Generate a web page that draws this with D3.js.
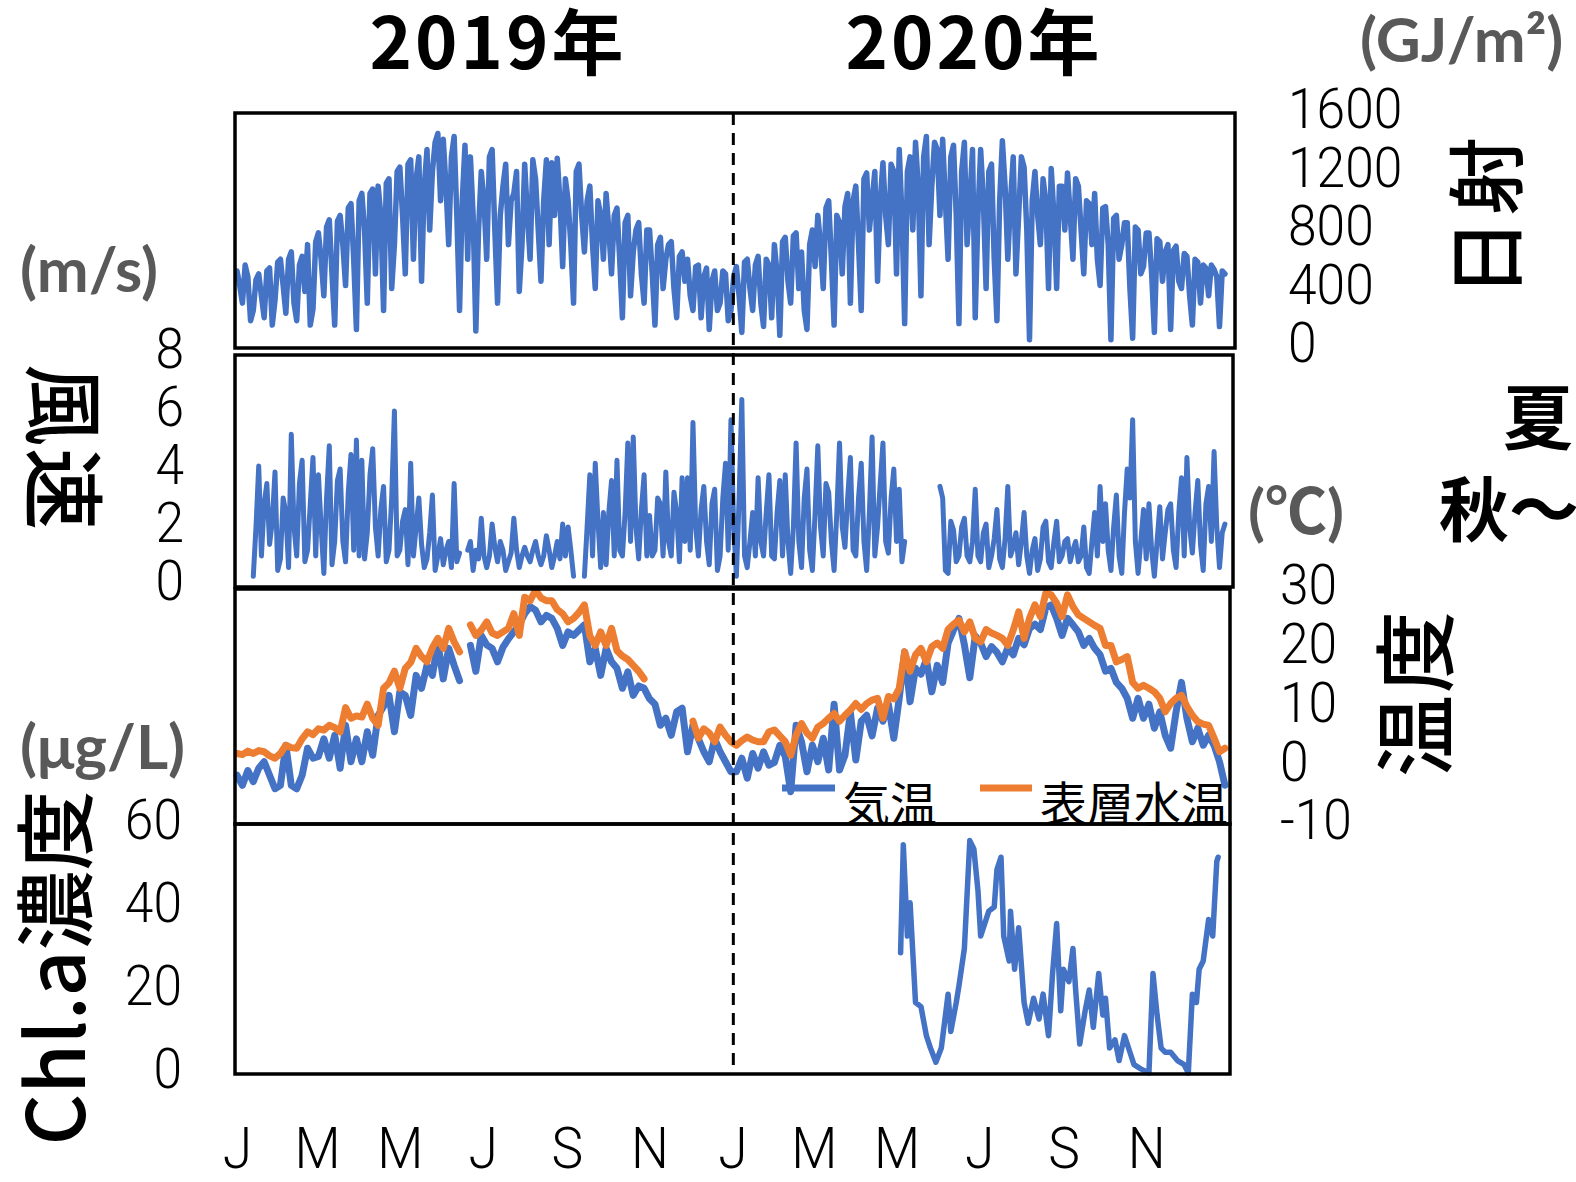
<!DOCTYPE html>
<html>
<head>
<meta charset="utf-8">
<script src="https://d3js.org/d3.v7.min.js"></script>
<style>
  body { margin:0; background:#fff; }
  svg text { font-family: "Noto Sans CJK JP", sans-serif; }
</style>
</head>
<body>
<script>
  var start = new Date(2019, 0, 1);
  var spikyStep = 2;   // solar and wind: one value every 2 days from 2019-01-01
  var tempStep = 4;    // temperatures: one value every 4 days from 2019-01-01

  // 日射 (GJ/m2)
  var solar = [
    // 2019
    520,420, 300,560, 480,180, 250,460, 500,350, 200,520, 540,150, 320,580,
    600,420, 230,600, 650,300, 180,560, 620,380, 700,150, 260,720,
    780,600, 350,820, 870,500, 150,860, 900,700, 420,950, 980,600, 120,1000,
    1050,800, 300,1050, 1080,500, 1100,900, 250,1120, 1150,400, 700,1200,
    1230,900, 500,1250, 1280,600, 1150,1300, 450,1100, 1350,800, 1200,1400, 1460,1000,
    1420,1100, 700,1300, 1440,900, 250,1000, 1380,600, 1300,900, 110,800,
    1200,1000, 600,1300, 1350,800, 300,900, 1100,1250, 700,1000, 1050,1200, 380,700,
    1250,900, 600,1280, 1150,800, 450,1000, 1280,700, 1260,900, 1290,1000, 550,1150,
    1000,700, 300,1200, 1250,900, 650,1000, 1100,700, 400,1000, 900,600,
    1050,800, 500,900, 950,600, 200,850, 900,350, 650,800, 850,500, 300,800,
    800,500, 150,700, 750,400, 600,700, 720,400, 200,620, 650,450,
    600,350, 250,550, 560,200, 480,540, 120,450, 520,250, 300,520, 500,180, 250,480,
    // 2020
    550,350, 100,580, 600,400, 250,560, 620,300, 140,600, 560,200,
    700,500, 80,720, 750,450, 300,760, 780,400, 650,250, 120,700, 800,550,
    900,700, 400,950, 1000,600, 150,900, 850,500, 960,1050, 300,1000,
    1100,700, 250,1150, 1190,800, 1000,1200, 450,1000, 1260,900, 700,1250, 1200,500,
    1350,900, 160,1200, 1300,800, 1400,1100, 350,1300, 1440,700, 1100,1400, 1350,900,
    1420,1000, 600,1300, 1380,900, 160,1200, 1400,700, 1000,1350, 200,900,
    1350,1000, 400,1200, 1250,600, 180,1000, 1410,1100, 600,1000, 1300,500, 900,1300,
    1230,800, 50,1000, 1200,900, 700,1150, 1000,400, 1220,900, 400,1100, 1100,800,
    1190,900, 600,1150, 1100,800, 500,1000, 980,700, 1050,600, 420,950,
    960,700, 50,880, 900,600, 700,850, 850,400, 60,820, 800,500, 550,780,
    780,500, 100,740, 720,450, 650,700, 120,660, 690,450, 400,640,
    620,350, 150,600, 580,300, 560,540, 350,560, 530,480, 140,520, 500
  ];

  // 風速 (m/s)
  var wind = [
    // 2019
    null,null, null,null, null,null, 0.3,2.0, 4.1,1.0, 2.8,3.5, 1.4,2.2, 3.9,0.5,
    0.9,3.0, 2.5,0.6, 5.2,2.0, 1.0,3.5, 4.3,0.8, 1.2,2.8, 4.4,1.0,
    3.8,2.0, 0.4,3.0, 4.8,0.7, 1.5,3.6, 4.0,1.5, 0.8,3.2, 4.5,1.2, 5.0,1.0,
    4.3,0.9, 1.8,3.8, 4.7,2.0, 1.0,2.6, 3.4,0.8, 1.2,3.0, 6.0,1.0,
    1.2,2.2, 2.6,0.7, 4.2,1.0, 2.0,3.0, 1.4,0.6, 0.9,1.8, 3.1,0.5, 1.0,1.6,
    0.7,1.2, 1.5,0.6, 3.5,0.8, 1.1,null, null,1.2, 1.5,0.5, 1.2,0.9,
    2.3,1.0, 0.6,1.0, 2.1,1.3, 0.8,1.5, 1.2,0.5, 0.8,1.1, 2.3,1.2, 0.6,1.0,
    1.3,1.0, 0.8,1.2, 1.5,1.0, 0.7,1.0, 1.7,1.2, 0.6,1.0, 1.5,0.9, 2.1,1.0,
    2.0,1.2, 0.3,null, null,null, 0.3,2.0, 3.8,1.0, 4.2,2.2, 0.6,2.5,
    0.7,2.5, 3.6,1.0, 4.3,1.2, 1.0,2.5, 4.9,1.5, 5.1,2.0, 0.9,2.6, 3.8,1.0,
    2.4,1.0, 1.2,3.0, 2.8,1.0, 3.9,1.5, 1.0,3.2, 2.5,0.8, 3.7,1.5,
    3.7,1.2, 5.6,2.0, 1.0,2.6, 3.4,1.5, 0.7,2.8, 3.3,0.5, 1.0,3.0, 4.2,1.2, 5.7,2.0,
    // 2020
    0.3,3.0, 6.4,1.0, 0.6,1.5, 2.5,1.0, 3.7,1.5, 1.0,2.5, 3.8,1.0,
    0.9,2.5, 3.6,1.0, 3.8,1.5, 0.4,2.0, 4.9,1.5, 0.6,3.0, 4.0,1.2, 0.5,2.5,
    4.8,2.0, 1.0,3.5, 3.2,1.5, 0.5,2.5, 4.9,2.0, 1.3,3.0, 4.4,1.2,
    1.0,3.0, 4.2,1.5, 0.5,2.5, 5.1,1.0, 2.0,3.5, 4.9,1.5, 1.1,3.0, 4.0,1.5,
    3.3,0.8, 1.5,null, null,null, null,null, null,null, null,null, null,null, null,3.4,
    3.0,0.5, 0.4,2.2, 1.9,0.8, 1.0,2.0, 2.3,1.0, 0.8,1.5, 3.3,1.0,
    0.8,1.8, 2.1,0.6, 1.0,1.6, 2.6,0.9, 0.6,1.6, 3.4,1.0, 1.3,1.8, 0.7,1.5,
    2.5,1.0, 0.4,1.2, 1.6,0.5, 0.9,2.0, 2.2,0.8, 0.6,1.5, 2.2,0.8, 1.0,1.5,
    1.6,0.8, 1.2,1.5, 0.8,1.0, 2.0,0.6, 0.4,1.5, 2.5,1.0, 3.4,1.5,
    2.8,1.2, 0.5,2.0, 3.1,1.0, 0.4,2.5, 4.0,3.0, 5.7,1.5, 0.4,1.5, 2.6,0.9,
    2.8,1.2, 0.3,1.5, 2.7,0.9, 1.8,2.6, 2.8,1.2, 0.6,2.5, 3.7,1.0,
    4.4,2.0, 1.1,2.5, 3.6,1.4, 0.5,2.8, 3.4,1.5, 4.6,2.0, 0.6,1.8, 2.1
  ];

  // 気温 (℃)
  var airTemp = [
    // 2019
    -1.7, -3.4, -0.9, -2.8, -0.5, 0.6, -1.7, -4.0,
    -3.4, 3.4, -3.4, -4.0, -1.7, 2.9, 1.2,
    1.5, 4.5, 1.2, 5.1, -0.5, 6.8, 0.6, 4.5,
    0.6, 5.7, 1.7, 8.5, 10.0, 11.9, 5.7,
    12.5, 11.9, 8.5, 15.3, 13.1, 17.0, 15.3, 20.8,
    14.7, 19.9, 17.0, 14.4, null, 20.4, 16.0,
    22.1, 20.5, 19.9, 17.6, 20.1, 21.5, 22.7, 23.9,
    25.8, 27.0, 26.4, 24.4, 25.5, 25.0, 23.3, 20.4,
    22.7, 22.1, 23.0, 23.9, 17.6, 19.9, 15.3,
    19.9, 17.6, 16.5, 13.1, 15.9, 11.9, 13.5, 13.1,
    11.3, 10.4, 6.8, 8.0, 5.1, 9.1, 9.7,
    2.3, 6.8, 4.5, 2.3, 0.6, 4.5, 2.3, 0.6, -1.1,
    // 2020
    -1.1, 1.2, -2.2, 2.0, -0.5, 2.3, 0.0,
    0.5, 3.4, 1.5, -4.5, 6.8, 4.0, -1.1, 3.4,
    0.6, 4.6, -0.8, 10.4, -0.8, 1.7, 9.0,
    0.9, 7.5, 8.5, 5.0, 9.7, 7.5, 10.4, 4.6,
    11.4, 19.3, 10.8, 16.5, 15.5, 18.0, 12.5, 17.0,
    14.1, 20.8, 23.0, 25.0, 20.5, 14.9, 22.0,
    20.8, 18.5, 20.2, 19.2, 17.6, 20.0, 18.8, 21.6,
    20.5, 23.3, 24.0, 23.1, 26.8, 27.3, 25.0, 22.1,
    25.0, 23.9, 22.7, 20.4, 21.6, 19.9, 18.8,
    16.0, 16.5, 14.1, 13.1, 11.4, 8.0, 11.4, 8.0,
    10.4, 6.3, 9.1, 5.1, 2.9, 9.1, 14.1,
    8.0, 4.0, 6.3, 3.4, 5.1, 3.4, 0.6, -3.4
  ];

  // 表層水温 (℃)
  var waterTemp = [
    // 2019
    2.0, 1.8, 2.4, 2.0, 2.5, 2.3, 1.6, 1.2,
    2.0, 3.4, 3.0, 2.9, 4.5, 5.7, 5.2,
    6.2, 6.0, 6.8, 6.4, 5.7, 9.8, 8.0, 8.4,
    8.2, 10.4, 8.0, 6.8, 13.1, 14.0, 16.0,
    13.1, 16.5, 17.5, 19.9, 18.5, 17.6, 20.0, 21.6,
    19.9, 23.3, 21.0, 19.3, null, 23.9, 22.1,
    23.0, 24.4, 22.5, 22.1, 22.7, 23.3, 25.8, 22.1,
    28.6, 28.0, 29.8, 28.5, 28.0, 28.0, 26.5, 25.8,
    24.4, 25.0, 26.0, 27.3, 22.0, 20.4, 22.7,
    20.4, 23.3, 19.5, 18.6, 18.0, 17.0, 16.0, 14.7,
    null, null, null, null, null, null, null,
    null, 7.5, 4.6, 6.2, 5.5, 4.0, 6.5, 5.1, 4.0,
    // 2020
    3.4, 4.2, 4.8, 4.3, 4.0, 4.0, 5.7,
    6.0, 5.0, 4.0, 1.7, 5.1, 7.1, 5.5, 4.6,
    6.5, 7.1, 8.0, 8.8, 7.5, 8.5, 9.4,
    10.5, 9.5, 10.5, 11.1, 11.4, 8.0, 11.7, 11.3,
    13.1, 19.3, 16.0, 18.8, 19.9, 17.6, 20.2, 20.8,
    19.9, 23.1, 24.0, 24.7, 22.7, 24.4, 21.6,
    21.0, 23.1, 22.5, 22.1, 21.6, 20.4, 23.0, 26.1,
    21.6, 25.0, 27.3, 25.3, 29.3, 29.0, 27.6, 25.3,
    29.0, 27.0, 25.6, 25.0, 24.4, 23.8, 23.3,
    20.4, 20.4, 17.6, 18.0, 18.5, 14.1, 13.1, 13.6,
    13.1, 12.5, 11.4, 9.1, 10.5, 11.4, 11.9,
    10.0, 8.5, 7.4, 7.0, 6.8, 4.6, 2.3, 2.9
  ];

  // Chl.a濃度 (μg/L), days counted from 2019-01-01
  var chlDay = [489, 491, 494, 496, 498, 500, 504, 508, 511, 515,
    519, 524, 526, 530, 532, 536, 540, 543, 546, 548,
    551, 554, 558, 560, 563, 565, 569, 570, 573, 576,
    580, 583, 587, 591, 594, 598, 601, 604, 607, 609,
    613, 616, 618, 621, 625, 628, 631, 635, 638, 640,
    643, 647, 650, 654, 658, 661, 666, 672, 675, 678,
    681, 684, 688, 693, 698, 701, 704, 707, 709, 712,
    716, 719, 722, 723];
  var chlVal = [29, 55, 33, 41, 29, 17, 16, 9, 6, 2.6,
    6, 19, 10, 17, 21, 30, 56, 54, 44, 33,
    36, 39, 40, 49, 52, 33, 27, 39, 25, 35,
    17, 12, 18, 13, 19, 9, 24, 36, 15, 25,
    22, 30, 20, 7, 15, 20, 11, 24, 14, 18,
    6, 8, 3, 9, 5, 2, 1, 0, 24, 14,
    6, 5, 5, 3, 2, 0, 19, 17, 25, 27,
    37, 33, 51, 52];

  var xTickDates = [new Date(2019,0,1), new Date(2019,2,1), new Date(2019,4,1), new Date(2019,6,1),
    new Date(2019,8,1), new Date(2019,10,1), new Date(2020,0,1), new Date(2020,2,1),
    new Date(2020,4,1), new Date(2020,6,1), new Date(2020,8,1), new Date(2020,10,1)];
  var xTickLabels = ["J", "M", "M", "J", "S", "N", "J", "M", "M", "J", "S", "N"];
  var solarTicks = [0, 400, 800, 1200, 1600];
  var windTicks = [0, 2, 4, 6, 8];
  var tempTicks = [-10, 0, 10, 20, 30];
  var chlTicks = [0, 20, 40, 60];

  var blue = "#4472C4", orange = "#ED7D31", grey = "#595959";
  var tickFont = "Roboto, 'Noto Sans CJK JP', sans-serif";

  var svg = d3.select("body").append("svg")
    .attr("width", 1576)
    .attr("height", 1182);

  var x = d3.scaleTime()
    .domain([new Date(2019,0,1), new Date(2021,0,1)])
    .range([237, 1229]);

  var ySolar = d3.scaleLinear().domain([0, 1600]).range([347, 113]);
  var yWind = d3.scaleLinear().domain([0, 8]).range([585, 353]);
  var yTemp = d3.scaleLinear().domain([-10, 30]).range([824, 589]);
  var yChl = d3.scaleLinear().domain([0, 60]).range([1073, 824]);

  function dateOf(d) { return d3.timeDay.offset(start, d); }

  function drawSeries(days, values, y, color, width) {
    var pts = values.map(function(v, i) { return { date: dateOf(days(i)), v: v }; });
    var line = d3.line()
      .defined(function(d) { return d.v != null; })
      .x(function(d) { return x(d.date); })
      .y(function(d) { return y(d.v); });
    svg.append("path")
      .attr("d", line(pts))
      .attr("fill", "none")
      .attr("stroke", color)
      .attr("stroke-width", width)
      .attr("stroke-linejoin", "round")
      .attr("stroke-linecap", "round");
  }

  drawSeries(function(i) { return i * spikyStep; }, solar, ySolar, blue, 5.5);
  drawSeries(function(i) { return i * spikyStep; }, wind, yWind, blue, 5);
  drawSeries(function(i) { return i * tempStep; }, airTemp, yTemp, blue, 7);
  drawSeries(function(i) { return i * tempStep; }, waterTemp, yTemp, orange, 7);
  drawSeries(function(i) { return chlDay[i]; }, chlVal, yChl, blue, 5.5);

  // panel frames
  var frames = [
    [235, 113, 1000, 235],
    [235, 355, 998, 232],
    [235, 589, 995, 235],
    [235, 824, 995, 250]
  ];
  svg.selectAll(".frame").data(frames).enter().append("rect")
    .attr("class", "frame")
    .attr("x", function(d) { return d[0]; })
    .attr("y", function(d) { return d[1]; })
    .attr("width", function(d) { return d[2]; })
    .attr("height", function(d) { return d[3]; })
    .attr("fill", "none")
    .attr("stroke", "#000")
    .attr("stroke-width", 3.5);

  // year boundary
  svg.append("line")
    .attr("x1", x(new Date(2020,0,1)) + 1).attr("x2", x(new Date(2020,0,1)) + 1)
    .attr("y1", 113).attr("y2", 1073)
    .attr("stroke", "#000").attr("stroke-width", 3)
    .attr("stroke-dasharray", "12,8");

  // axes
  function yAxis(gen, scale, ticks, xPos) {
    var g = svg.append("g")
      .attr("transform", "translate(" + xPos + ",-3)")
      .call(gen(scale).tickValues(ticks).tickFormat(String).tickSize(0).tickPadding(0));
    g.select(".domain").remove();
    g.attr("font-size", 56).attr("font-weight", 300);
    g.selectAll("text").style("font-family", tickFont).attr("transform", "scale(0.92,1)");
  }
  yAxis(d3.axisRight, ySolar, solarTicks, 1288);
  yAxis(d3.axisLeft, yWind, windTicks, 184);
  yAxis(d3.axisRight, yTemp, tempTicks, 1280);
  yAxis(d3.axisLeft, yChl, chlTicks, 182);

  var gx = svg.append("g")
    .attr("transform", "translate(0,1127)")
    .call(d3.axisBottom(x).tickValues(xTickDates)
      .tickFormat(function(d, i) { return xTickLabels[i]; })
      .tickSize(0).tickPadding(0));
  gx.select(".domain").remove();
  gx.attr("font-size", 58).attr("font-weight", 300);
  gx.selectAll("text").style("font-family", tickFont).attr("transform", "scale(0.92,1)");

  // titles
  svg.append("text").attr("x", 498).attr("y", 69).attr("text-anchor", "middle")
    .attr("font-size", 72).attr("font-weight", 700).attr("letter-spacing", 3).text("2019年");
  svg.append("text").attr("x", 974).attr("y", 69).attr("text-anchor", "middle")
    .attr("font-size", 72).attr("font-weight", 700).attr("letter-spacing", 3).text("2020年");

  // units
  function unit(txt, xPos, yPos) {
    svg.append("text").attr("x", xPos).attr("y", yPos)
      .attr("dominant-baseline", "central")
      .style("font-family", "Lato, 'Noto Sans CJK JP'")
      .attr("font-size", 62).attr("font-weight", 700).attr("fill", grey).text(txt);
  }
  unit("(m/s)", 20, 268);
  unit("(GJ/m²)", 1360, 38);
  unit("(℃)", 1248, 510);
  unit("(μg/L)", 20, 745);

  // rotated axis titles
  function vtitle(txt, cx, cy, angle, size, spacing) {
    svg.append("text")
      .attr("transform", "translate(" + cx + "," + cy + ") rotate(" + angle + ")")
      .attr("text-anchor", "middle").attr("dominant-baseline", "central")
      .attr("letter-spacing", spacing)
      .attr("font-size", size).attr("font-weight", 500).text(txt);
  }
  vtitle("日射", 1482, 215, -90, 78, 4);
  vtitle("風速", 68, 448, 90, 82, 2);
  vtitle("温度", 1410, 693, -90, 82, 2);
  vtitle("Chl.a濃度", 50, 968, -90, 80, 0);

  // season fragments
  svg.append("text").attr("x", 1503).attr("y", 413).attr("dominant-baseline", "central")
    .attr("font-size", 70).attr("font-weight", 700).text("夏");
  svg.append("text").attr("x", 1439).attr("y", 505).attr("dominant-baseline", "central")
    .attr("font-size", 70).attr("font-weight", 700).text("秋～");

  // legend
  var legend = [
    { label: "気温", color: blue, x1: 782, x2: 835, tx: 843 },
    { label: "表層水温", color: orange, x1: 980, x2: 1032, tx: 1040 }
  ];
  legend.forEach(function(l) {
    svg.append("line").attr("x1", l.x1).attr("x2", l.x2).attr("y1", 788).attr("y2", 788)
      .attr("stroke", l.color).attr("stroke-width", 7);
    svg.append("text").attr("x", l.tx).attr("y", 800).attr("dominant-baseline", "central")
      .attr("font-size", 47).text(l.label);
  });
</script>
</body>
</html>
